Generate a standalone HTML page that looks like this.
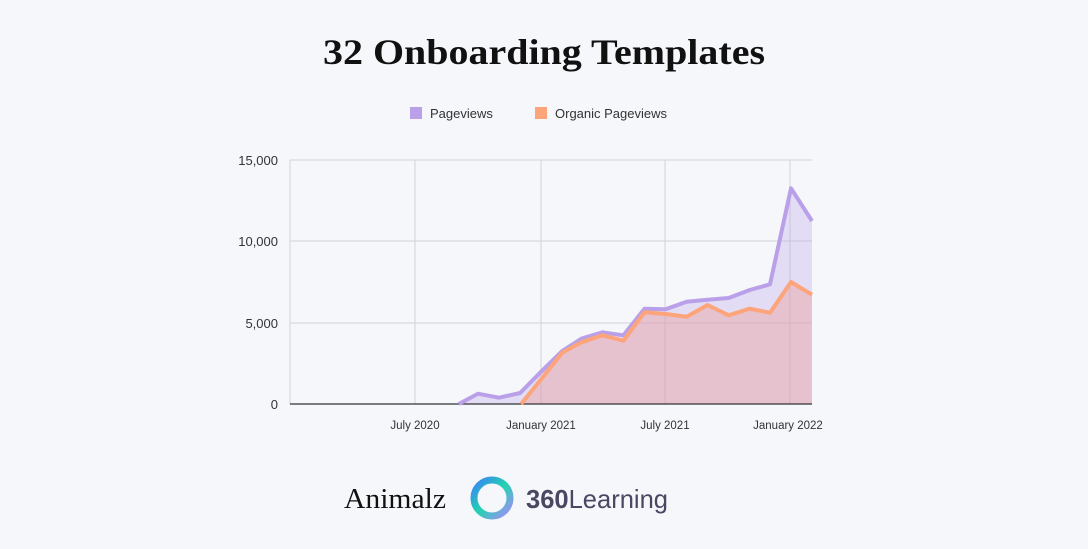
<!DOCTYPE html>
<html><head><meta charset="utf-8"><style>
body{margin:0;width:1088px;height:544px;background:#f5f7fb;overflow:hidden;font-family:"Liberation Sans",sans-serif;}
</style></head><body>
<svg width="1088" height="544" xmlns="http://www.w3.org/2000/svg">
<text x="323" y="64" textLength="442" lengthAdjust="spacingAndGlyphs" font-family="Liberation Serif,serif" font-weight="bold" font-size="36" fill="#111">32 Onboarding Templates</text>
<rect x="410" y="107" width="12" height="12" fill="#b9a0e8"/>
<text x="430" y="118" font-size="13" fill="#333">Pageviews</text>
<rect x="535" y="107" width="12" height="12" fill="#fda47a"/>
<text x="555" y="118" font-size="13" fill="#333">Organic Pageviews</text>
<g stroke="#d3d3d8" stroke-width="1">
<line x1="290" y1="160" x2="812" y2="160"/><line x1="290" y1="241" x2="812" y2="241"/><line x1="290" y1="323" x2="812" y2="323"/>
<line x1="290" y1="160" x2="290" y2="404"/><line x1="415" y1="160" x2="415" y2="404"/><line x1="541" y1="160" x2="541" y2="404"/><line x1="665" y1="160" x2="665" y2="404"/><line x1="790" y1="160" x2="790" y2="404"/>
</g>
<g font-size="13" fill="#333" text-anchor="end">
<text x="278" y="165">15,000</text><text x="278" y="246">10,000</text><text x="278" y="328">5,000</text><text x="278" y="409">0</text>
</g>
<g font-size="11.5" fill="#333" text-anchor="middle">
<text x="415" y="429">July 2020</text><text x="541" y="429">January 2021</text><text x="665" y="429">July 2021</text><text x="788" y="429">January 2022</text>
</g>
<polygon fill="#b9a0e8" fill-opacity="0.3" points="458.8,404 478,393.7 499,397.7 520.1,393 541.1,371.7 562.2,351 581.4,338.7 602.5,332.3 623.5,335.3 644.5,308.7 665.6,309.3 686.6,301.7 707.6,299.7 728.7,298 749.7,290 770,284.3 791,188.3 812,221 812,404"/>
<polygon fill="#e8a0a0" fill-opacity="0.45" points="521.1,404 541.1,379.3 562.2,352.7 581.4,342.3 602.5,335.3 623.5,340.7 644.5,312.3 665.6,314 686.6,316.7 707.6,305 728.7,315.3 749.7,308.7 770,312.7 791,282 812,294.7 812,404"/>
<line x1="290" y1="404" x2="812" y2="404" stroke="#333" stroke-width="1.2"/>
<polyline fill="none" stroke="#b9a0e8" stroke-width="4" stroke-linejoin="round" points="458.8,404 478,393.7 499,397.7 520.1,393 541.1,371.7 562.2,351 581.4,338.7 602.5,332.3 623.5,335.3 644.5,308.7 665.6,309.3 686.6,301.7 707.6,299.7 728.7,298 749.7,290 770,284.3 791,188.3 812,221"/>
<polyline fill="none" stroke="#fda47a" stroke-width="4" stroke-linejoin="round" points="521.1,404 541.1,379.3 562.2,352.7 581.4,342.3 602.5,335.3 623.5,340.7 644.5,312.3 665.6,314 686.6,316.7 707.6,305 728.7,315.3 749.7,308.7 770,312.7 791,282 812,294.7"/>
<text x="344" y="508" textLength="102" lengthAdjust="spacingAndGlyphs" font-family="Liberation Serif,serif" font-size="29" fill="#111">Animalz</text>
<defs><linearGradient id="g" x1="0" y1="0" x2="1" y2="1"><stop offset="0" stop-color="#3b82f6"/><stop offset="0.5" stop-color="#22d3b0"/><stop offset="1" stop-color="#a78bfa"/></linearGradient></defs>
<circle cx="492" cy="498" r="18" fill="none" stroke="url(#g)" stroke-width="7"/>
<text x="526" y="508" textLength="142" lengthAdjust="spacingAndGlyphs" font-size="26" fill="#4a4763"><tspan font-weight="bold">360</tspan>Learning</text>
</svg>
</body></html>
